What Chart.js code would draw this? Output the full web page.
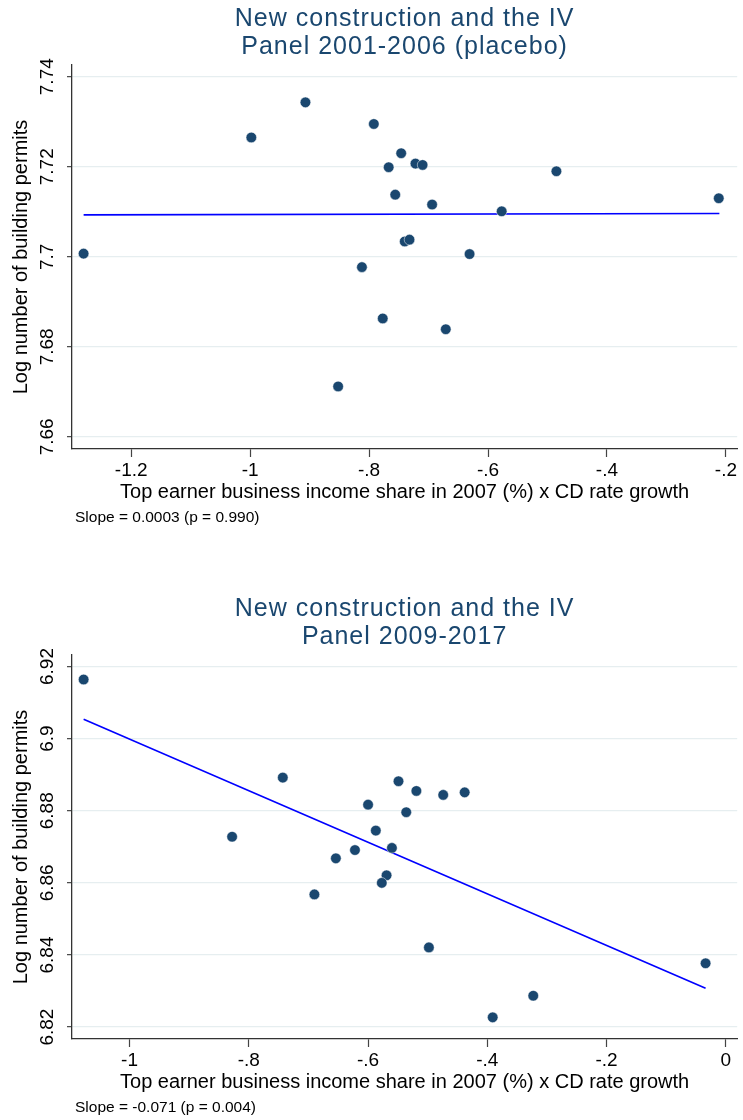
<!DOCTYPE html>
<html lang="en">
<head>
  <meta charset="UTF-8" />
  <title>New construction and the IV</title>
  <script src="https://cdn.jsdelivr.net/npm/chart.js"></script>
  <style>
    body { margin: 0; background: #fff; width: 743px; height: 1120px; overflow: hidden; position: relative; }
    .panel { position: absolute; left: 0; width: 743px; }
    #topPanel { top: 0; height: 590px; }
    #bottomPanel { top: 590px; height: 530px; }
  </style>
</head>
<body>
  <div class="panel" id="topPanel"><canvas id="chartTop"></canvas></div>
  <div class="panel" id="bottomPanel"><canvas id="chartBottom"></canvas></div>

  <script>
    // Panel 2001-2006 (placebo)
    const placeboX = [-1.280, -0.998, -0.907, -0.792, -0.812, -0.852, -0.746, -0.767, -0.722, -0.710,
                      -0.756, -0.694, -0.577, -0.485, -0.212, -0.740, -0.732, -0.631, -0.777, -0.671];
    const placeboY = [7.7007, 7.7265, 7.7343, 7.7295, 7.6977, 7.6712, 7.7230, 7.7199, 7.7207, 7.7204,
                      7.7138, 7.7116, 7.7101, 7.7190, 7.7130, 7.7034, 7.7038, 7.7006, 7.6863, 7.6839];
    const placeboFitX = [-1.280, -0.211];
    const placeboFitY = [7.7093, 7.7096];
    const placeboXTicks = [-1.2, -1, -0.8, -0.6, -0.4, -0.2];
    const placeboXLabels = ['-1.2', '-1', '-.8', '-.6', '-.4', '-.2'];
    const placeboYTicks = [7.66, 7.68, 7.70, 7.72, 7.74];
    const placeboYLabels = ['7.66', '7.68', '7.7', '7.72', '7.74'];

    // Panel 2009-2017
    const mainX = [-1.077, -0.743, -0.828, -0.690, -0.654, -0.622, -0.600, -0.587, -0.560, -0.569,
                   -0.577, -0.549, -0.519, -0.536, -0.474, -0.438, -0.498, -0.391, -0.323, -0.034];
    const mainY = [6.9164, 6.8892, 6.8728, 6.8568, 6.8668, 6.8691, 6.8817, 6.8745, 6.8697, 6.8621,
                   6.8600, 6.8882, 6.8855, 6.8796, 6.8844, 6.8851, 6.8421, 6.8227, 6.8287, 6.8377];
    const mainFitX = [-1.077, -0.034];
    const mainFitY = [6.9054, 6.8308];
    const mainXTicks = [-1, -0.8, -0.6, -0.4, -0.2, 0];
    const mainXLabels = ['-1', '-.8', '-.6', '-.4', '-.2', '0'];
    const mainYTicks = [6.82, 6.84, 6.86, 6.88, 6.90, 6.92];
    const mainYLabels = ['6.82', '6.84', '6.86', '6.88', '6.9', '6.92'];

    const FONT = '"Liberation Sans", Arial, Helvetica, sans-serif';
    const NAVY = '#1a476f';
    const PLOT_TOP = 65;
    const PLOT_BOTTOM = 449;
    const PLOT_LEFT = 72;

    // titles, rotated y labels and notes, drawn Stata style
    function textPlugin(cfg) {
      return {
        id: 'stataText',
        afterDraw(chart) {
          const { ctx, chartArea: a } = chart;
          const y = chart.scales.y;
          const cx = (a.left + a.right) / 2;
          ctx.save();
          ctx.textAlign = 'center';
          ctx.textBaseline = 'middle';

          ctx.fillStyle = NAVY;
          ctx.font = '25px ' + FONT;
          ctx.letterSpacing = '1px';
          cfg.title.forEach((t, i) => ctx.fillText(t, cx, 19 + i * 28));
          ctx.letterSpacing = '0px';

          ctx.fillStyle = '#000';
          ctx.font = '19px ' + FONT;
          cfg.yTicks.forEach((v, i) => {
            ctx.save();
            ctx.translate(48, y.getPixelForValue(v));
            ctx.rotate(-Math.PI / 2);
            ctx.fillText(cfg.yLabels[i], 0, 0);
            ctx.restore();
          });

          ctx.font = '20px ' + FONT;
          ctx.save();
          ctx.translate(21, (a.top + a.bottom) / 2);
          ctx.rotate(-Math.PI / 2);
          ctx.fillText('Log number of building permits', 0, 0);
          ctx.restore();

          ctx.fillText('Top earner business income share in 2007 (%) x CD rate growth', cx, a.bottom + 43);

          ctx.textAlign = 'left';
          ctx.font = '15.5px ' + FONT;
          ctx.fillText(cfg.note, 75, a.bottom + 69);
          ctx.restore();
        }
      };
    }

    function makeChart(id, cfg) {
      return new Chart(document.getElementById(id), {
        type: 'scatter',
        data: {
          datasets: [{
            data: cfg.x.map((v, i) => ({ x: v, y: cfg.y[i] })),
            backgroundColor: NAVY,
            borderColor: '#ffffff',
            borderWidth: 0.5,
            pointRadius: 5.3
          }, {
            type: 'line',
            data: cfg.fitX.map((v, i) => ({ x: v, y: cfg.fitY[i] })),
            borderColor: '#0000ff',
            borderWidth: 1.6,
            pointRadius: 0,
            fill: false
          }]
        },
        options: {
          responsive: true,
          maintainAspectRatio: false,
          animation: false,
          layout: { padding: { top: PLOT_TOP, left: 0, right: 0, bottom: 0 } },
          plugins: { legend: { display: false }, tooltip: { enabled: false } },
          scales: {
            x: {
              type: 'linear',
              min: cfg.xMin,
              max: cfg.xMax,
              afterBuildTicks: s => { s.ticks = cfg.xTicks.map(v => ({ value: v })); },
              afterFit: s => {
                s.height = s.chart.height - PLOT_BOTTOM;
                s.paddingLeft = 0;
                s.paddingRight = 0;
              },
              ticks: {
                autoSkip: false,
                maxRotation: 0,
                color: '#000',
                padding: 2,
                font: { family: FONT, size: 19 },
                callback: (v, i) => cfg.xLabels[i]
              },
              grid: { drawOnChartArea: false, tickLength: 8, tickColor: '#444', tickWidth: 1.2 },
              border: { color: '#333', width: 1.3 }
            },
            y: {
              type: 'linear',
              min: cfg.yMin,
              max: cfg.yMax,
              afterBuildTicks: s => { s.ticks = cfg.yTicks.map(v => ({ value: v })); },
              afterFit: s => { s.width = PLOT_LEFT; },
              ticks: { display: false },
              grid: { color: '#e6eef0', lineWidth: 1.3, tickLength: 5, tickColor: '#444', tickWidth: 1.2 },
              border: { color: '#333', width: 1.3 }
            }
          }
        },
        plugins: [textPlugin(cfg)]
      });
    }

    makeChart('chartTop', {
      x: placeboX, y: placeboY, fitX: placeboFitX, fitY: placeboFitY,
      xTicks: placeboXTicks, xLabels: placeboXLabels,
      yTicks: placeboYTicks, yLabels: placeboYLabels,
      xMin: -1.2995, xMax: -0.181, yMin: 7.6573, yMax: 7.7426,
      title: ['New construction and the IV', 'Panel 2001-2006 (placebo)'],
      note: 'Slope = 0.0003 (p = 0.990)'
    });

    makeChart('chartBottom', {
      x: mainX, y: mainY, fitX: mainFitX, fitY: mainFitY,
      xTicks: mainXTicks, xLabels: mainXLabels,
      yTicks: mainYTicks, yLabels: mainYLabels,
      xMin: -1.0965, xMax: 0.019, yMin: 6.8167, yMax: 6.9232,
      title: ['New construction and the IV', 'Panel 2009-2017'],
      note: 'Slope = -0.071 (p = 0.004)'
    });
  </script>
</body>
</html>
